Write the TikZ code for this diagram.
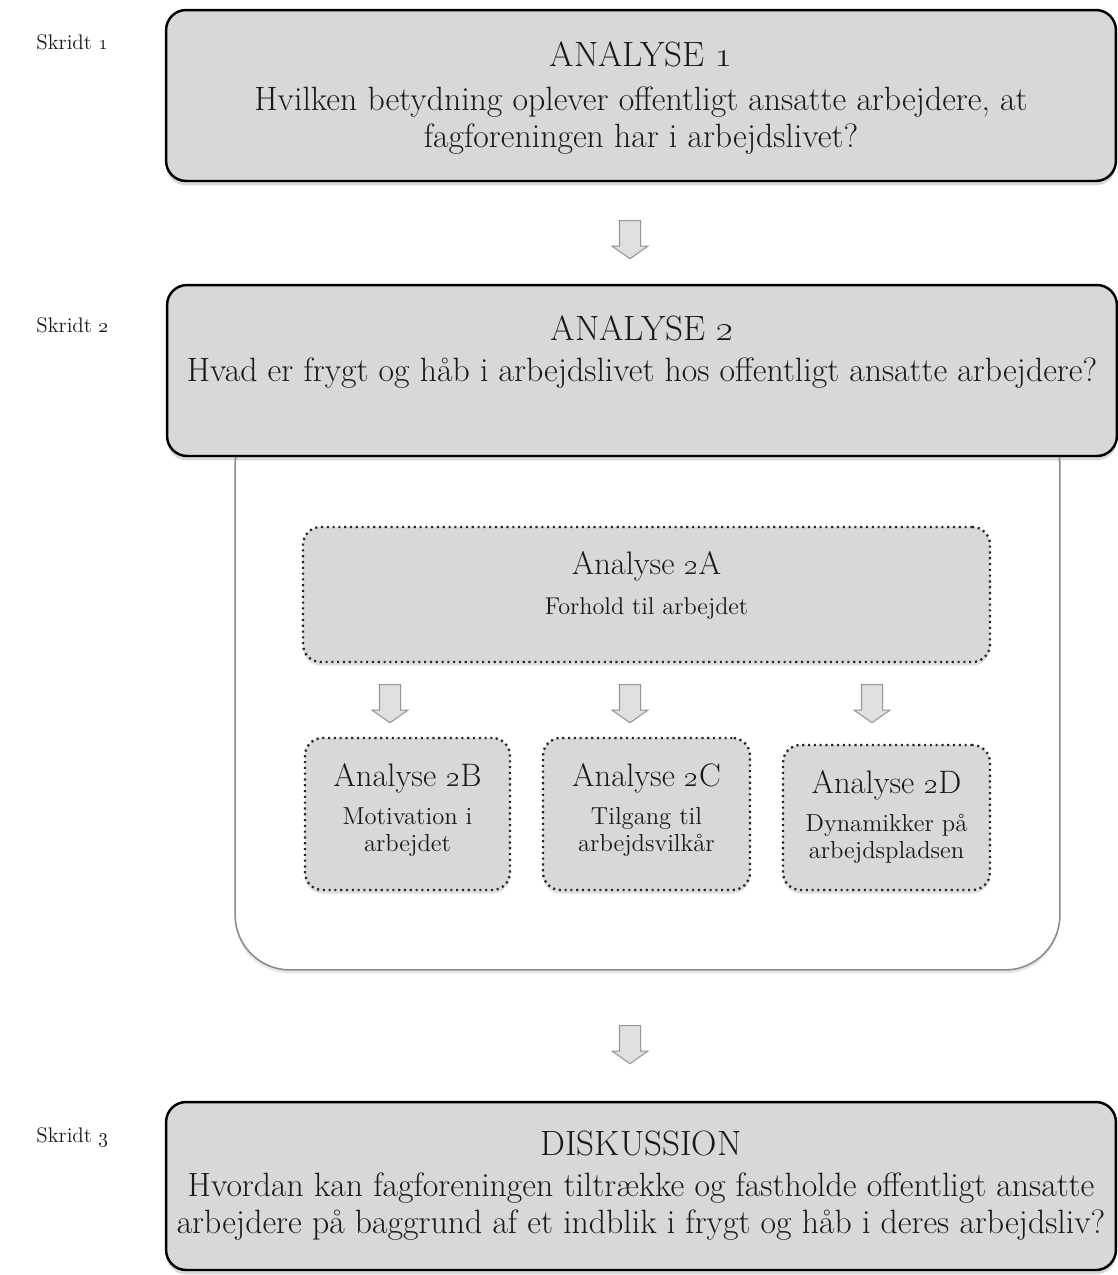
\documentclass[tikz,border=0pt]{standalone}
\usepackage{tikz}
\usetikzlibrary{shapes.arrows, positioning, shadows}
\definecolor{boxgray}{RGB}{216,216,216}
\definecolor{arrowgray}{RGB}{224,224,224}
\definecolor{arrowedge}{RGB}{150,150,150}

\begin{document}
\begin{tikzpicture}[
			x=0.02cm, y=-0.02cm,
			mainbox/.style={rectangle, rounded corners=0.4cm, draw=black, line width=1.4pt, fill=boxgray, minimum width=19cm, minimum height=3.42cm, drop shadow={shadow xshift=0pt, shadow yshift=-2.5pt, opacity=0.3}},
			subbox/.style={rectangle, rounded corners=0.35cm, draw=black!85, line width=1.3pt, dash pattern=on 1.2pt off 2.1pt, fill=boxgray, drop shadow={shadow xshift=0pt, shadow yshift=-2pt, opacity=0.25}},
			container/.style={rectangle, rounded corners=1.1cm, draw=black!45, line width=0.9pt, fill=white, minimum width=16.5cm, minimum height=11.2cm, drop shadow={shadow xshift=0pt, shadow yshift=-2pt, opacity=0.2}},
			maintext/.style={inner sep=0pt, align=center, text=black!90, font={\fontsize{19.2}{20.8}\selectfont}},
			subtext/.style={inner sep=0pt, align=center, text=black!90, font={\fontsize{14}{15}\selectfont}},
			steplabel/.style={inner sep=0pt, anchor=west, text=black!90, font={\fontsize{12}{14}\selectfont}},
			flow/.style={single arrow, draw=arrowedge, fill=arrowgray, line width=0.6pt, shape border rotate=270, inner sep=0.2cm, single arrow head extend=0.15cm, single arrow tip angle=110, minimum height=0.76cm}
			]
			\useasboundingbox (0,0) rectangle (1117,1275);
			
			% step labels
			\node[steplabel] (s1) at (36,42) {Skridt \oldstylenums{1}};
			\node[steplabel] (s2) at (36,325) {Skridt \oldstylenums{2}};
			\node[steplabel] (s3) at (36,1137) {Skridt \oldstylenums{3}};
			
			% white frame behind analyse 2
			\node[container] (frame) at (647.5,690) {};
			
			\node[mainbox] (an1) at (641,95.5) {};
			\node[maintext, below=0.66cm of an1.north] (an1txt) {{\fontsize{20}{22}\selectfont ANALYSE \oldstylenums{1}}\\[4pt]Hvilken betydning oplever offentligt ansatte arbejdere, at\\fagforeningen har i arbejdslivet?};
			
			\node[mainbox] (an2) at (642,370.5) {};
			\node[maintext, below=0.64cm of an2.north] (an2txt) {{\fontsize{20}{22}\selectfont ANALYSE \oldstylenums{2}}\\[2pt]Hvad er frygt og håb i arbejdslivet hos offentligt ansatte arbejdere?};
			
			\node[mainbox, minimum height=3.36cm] (disk) at (641,1186) {};
			\node[maintext, below=0.6cm of disk.north] (disktxt) {{\fontsize{20}{22}\selectfont DISKUSSION}\\[2.5pt]Hvordan kan fagforeningen tiltrække og fastholde offentligt ansatte\\arbejdere på baggrund af et indblik i frygt og håb i deres arbejdsliv?};
			
			% sub analyses
			\node[subbox, minimum width=13.74cm, minimum height=2.7cm] (a2a) at (646.5,594.5) {};
			\node[subtext, below=0.5cm of a2a.north] (a2atxt) {{\fontsize{18.5}{20}\selectfont Analyse \oldstylenums{2}A}\\[8pt]{\fontsize{13.8}{15}\selectfont Forhold til arbejdet}};
			
			\node[subbox, minimum width=4.1cm, minimum height=3.04cm] (a2b) at (407.5,814) {};
			\node[subtext, below=0.52cm of a2b.north] (a2btxt) {{\fontsize{18.5}{20}\selectfont Analyse \oldstylenums{2}B}\\[7pt]Motivation i\\arbejdet};
			
			\node[subbox, minimum width=4.14cm, minimum height=3.04cm] (a2c) at (646.5,814) {};
			\node[subtext, below=0.52cm of a2c.north] (a2ctxt) {{\fontsize{18.5}{20}\selectfont Analyse \oldstylenums{2}C}\\[7pt]Tilgang til\\arbejdsvilkår};
			
			\node[subbox, minimum width=4.14cm, minimum height=2.9cm] (a2d) at (886.5,817.5) {};
			\node[subtext, below=0.52cm of a2d.north] (a2dtxt) {{\fontsize{18.5}{20}\selectfont Analyse \oldstylenums{2}D}\\[7pt]Dynamikker på\\arbejdspladsen};
			
			% flow arrows
			\node[flow] (f1) at (630,236) {};
			\node[flow] (f2) at (390,700) {};
			\node[flow] (f3) at (630,700) {};
			\node[flow] (f4) at (872,700) {};
			\node[flow] (f5) at (630,1041) {};
		\end{tikzpicture}
\end{document}
